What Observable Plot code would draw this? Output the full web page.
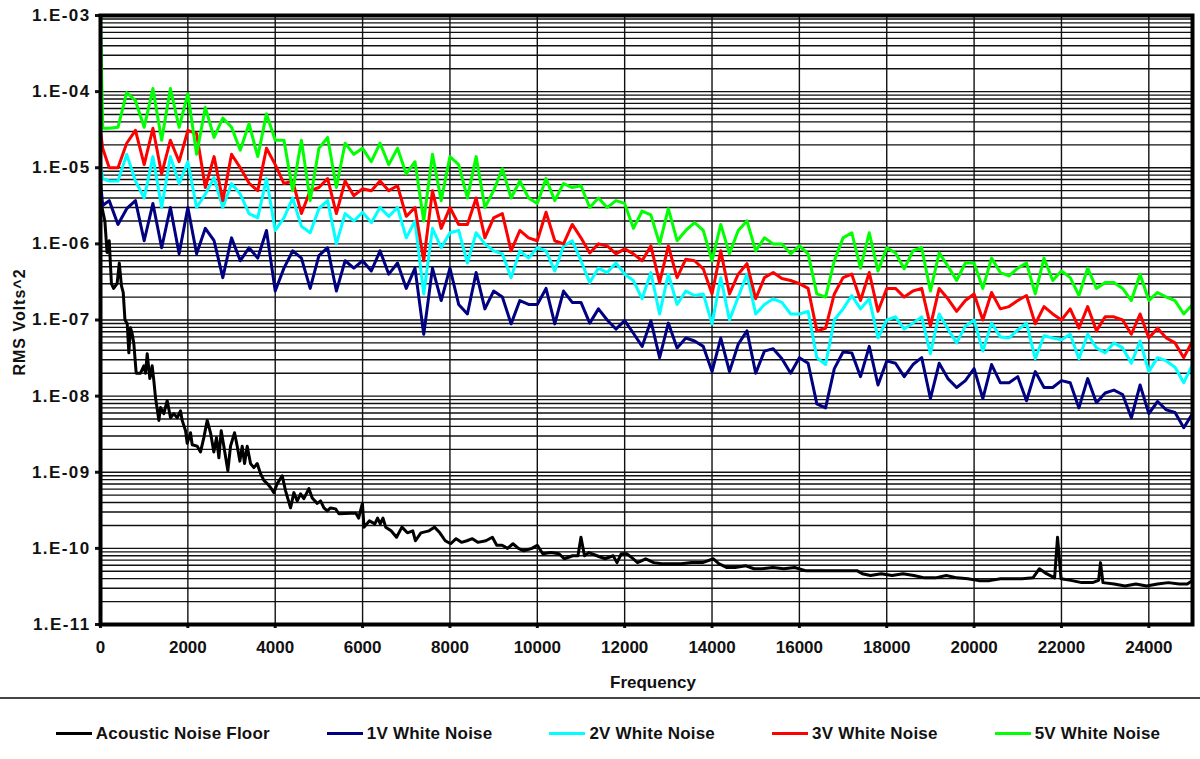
<!DOCTYPE html>
<html>
<head>
<meta charset="utf-8">
<script src="https://cdn.jsdelivr.net/npm/d3@7"></script>
<script src="https://cdn.jsdelivr.net/npm/@observablehq/plot@0.6"></script>
<style>
  body { margin: 0; background: #fff; font-family: 'Liberation Sans', Arial, sans-serif; }
  #legend { width: 1200px; height: 62px; box-sizing: border-box; border-top: 2px solid #444;
            display: flex; justify-content: center; gap: 57px; padding-top: 9px; padding-left: 16px;
            font-weight: bold; font-size: 17px; color: #111; line-height: 18px; letter-spacing: 0.2px; }
  .item { display: flex; align-items: center; }
  .sw { width: 36px; height: 3px; margin-right: 4px; }
</style>
</head>
<body>
<div id="chart"></div>
<div id="legend"></div>
<script>
// ---------- data ----------
const seriesNames = ["Acoustic Noise Floor", "1V White Noise", "2V White Noise", "3V White Noise", "5V White Noise"];
const seriesColors = ["#000000", "#000080", "#00FFFF", "#FF0000", "#00FF00"];
const xLabel = "Frequency";
const yLabel = "RMS Volts^2";
const xTicks = [0, 2000, 4000, 6000, 8000, 10000, 12000, 14000, 16000, 18000, 20000, 22000, 24000];
const xTickLabels = ["0", "2000", "4000", "6000", "8000", "10000", "12000", "14000", "16000", "18000", "20000", "22000", "24000"];
const yTicks = [1e-11, 1e-10, 1e-9, 1e-8, 1e-7, 1e-6, 1e-5, 1e-4, 1e-3];
const yTickLabels = ["1.E-11", "1.E-10", "1.E-09", "1.E-08", "1.E-07", "1.E-06", "1.E-05", "1.E-04", "1.E-03"];

// frequency bins shared by the four white-noise series
const freq = [0, 50,
  200, 400, 600, 800, 1000, 1200, 1400, 1600, 1800, 2000,
  2200, 2400, 2600, 2800, 3000, 3200, 3400, 3600, 3800, 4000,
  4200, 4400, 4600, 4800, 5000, 5200, 5400, 5600, 5800, 6000,
  6200, 6400, 6600, 6800, 7000, 7200, 7400, 7600, 7800, 8000,
  8200, 8400, 8600, 8800, 9000, 9200, 9400, 9600, 9800, 10000,
  10200, 10400, 10600, 10800, 11000, 11200, 11400, 11600, 11800, 12000,
  12200, 12400, 12600, 12800, 13000, 13200, 13400, 13600, 13800, 14000,
  14200, 14400, 14600, 14800, 15000, 15200, 15400, 15600, 15800, 16000,
  16200, 16400, 16600, 16800, 17000, 17200, 17400, 17600, 17800, 18000,
  18200, 18400, 18600, 18800, 19000, 19200, 19400, 19600, 19800, 20000,
  20200, 20400, 20600, 20800, 21000, 21200, 21400, 21600, 21800, 22000,
  22200, 22400, 22600, 22800, 23000, 23200, 23400, 23600, 23800, 24000,
  24200, 24400, 24600, 24800, 25000];

const noise5V = [1e-3, 3.3e-5,
  3.3e-5, 3.4e-5, 9.7e-5, 7.6e-5, 3.4e-5, 1.1e-4, 2.3e-5, 1.1e-4, 3.4e-5, 9.4e-5,
  1.5e-5, 6.2e-5, 2.5e-5, 4.5e-5, 3.4e-5, 1.7e-5, 3.8e-5, 1.4e-5, 5.1e-5, 2.3e-5,
  2.3e-5, 5.0e-6, 2.3e-5, 3.7e-6, 1.8e-5, 2.5e-5, 5.5e-6, 2.1e-5, 1.5e-5, 1.8e-5,
  1.2e-5, 2.1e-5, 1.1e-5, 1.8e-5, 8.3e-6, 1.2e-5, 2.0e-6, 1.5e-5, 3.7e-6, 1.4e-5,
  1.1e-5, 4.0e-6, 1.4e-5, 3.0e-6, 5.0e-6, 9.7e-6, 4.0e-6, 6.7e-6, 4.0e-6, 3.4e-6,
  7.2e-6, 3.7e-6, 6.2e-6, 5.5e-6, 5.8e-6, 3.0e-6, 4.0e-6, 3.0e-6, 3.7e-6, 3.4e-6,
  1.6e-6, 2.7e-6, 2.4e-6, 1.0e-6, 2.9e-6, 1.1e-6, 1.5e-6, 1.9e-6, 1.5e-6, 6.0e-7,
  1.8e-6, 7.4e-7, 1.5e-6, 2.0e-6, 8.1e-7, 1.2e-6, 1.0e-6, 1.0e-6, 7.4e-7, 9.4e-7,
  7.4e-7, 2.2e-7, 2.0e-7, 6.0e-7, 1.2e-6, 1.4e-6, 4.8e-7, 1.4e-6, 4.4e-7, 8.9e-7,
  7.6e-7, 4.7e-7, 8.1e-7, 8.9e-7, 2.4e-7, 7.6e-7, 5.1e-7, 3.3e-7, 5.6e-7, 5.6e-7,
  2.6e-7, 6.5e-7, 4.2e-7, 3.8e-7, 4.8e-7, 5.6e-7, 2.2e-7, 6.5e-7, 3.3e-7, 4.4e-7,
  3.6e-7, 2.1e-7, 4.8e-7, 2.6e-7, 3.1e-7, 3.1e-7, 2.6e-7, 1.8e-7, 4.0e-7, 1.8e-7,
  2.3e-7, 2.0e-7, 1.8e-7, 1.2e-7, 1.6e-7];

const noise3V = [3.1e-5, 1.8e-5,
  1.0e-5, 1.0e-5, 2.1e-5, 3.1e-5, 1.1e-5, 3.3e-5, 8.3e-6, 2.3e-5, 1.2e-5, 3.1e-5,
  2.8e-5, 5.5e-6, 1.4e-5, 3.7e-6, 1.5e-5, 1.0e-5, 6.3e-6, 5.0e-6, 1.8e-5, 1.1e-5,
  6.2e-6, 6.7e-6, 2.5e-6, 5.0e-6, 5.5e-6, 7.2e-6, 2.5e-6, 6.7e-6, 4.3e-6, 5.3e-6,
  5.0e-6, 6.7e-6, 5.0e-6, 5.8e-6, 2.3e-6, 3.0e-6, 6.0e-7, 5.0e-6, 1.6e-6, 3.0e-6,
  1.8e-6, 1.8e-6, 4.0e-6, 1.2e-6, 2.2e-6, 2.5e-6, 8.1e-7, 1.5e-6, 1.2e-6, 1.1e-6,
  2.6e-6, 1.1e-6, 1.0e-6, 1.8e-6, 1.2e-6, 7.6e-7, 1.0e-6, 9.4e-7, 7.4e-7, 8.6e-7,
  7.4e-7, 6.0e-7, 9.4e-7, 3.1e-7, 9.4e-7, 3.6e-7, 6.3e-7, 6.0e-7, 4.7e-7, 2.2e-7,
  8.1e-7, 2.2e-7, 4.0e-7, 5.5e-7, 1.9e-7, 3.6e-7, 4.2e-7, 3.5e-7, 3.3e-7, 3.0e-7,
  2.6e-7, 7.2e-8, 7.8e-8, 2.2e-7, 3.6e-7, 4.0e-7, 1.8e-7, 4.2e-7, 1.3e-7, 2.6e-7,
  2.6e-7, 2.0e-7, 2.4e-7, 2.6e-7, 8.3e-8, 2.6e-7, 1.9e-7, 1.3e-7, 1.8e-7, 2.2e-7,
  1.0e-7, 2.3e-7, 1.4e-7, 1.5e-7, 1.8e-7, 2.1e-7, 8.9e-8, 1.5e-7, 1.2e-7, 1.0e-7,
  1.4e-7, 7.8e-8, 1.5e-7, 7.2e-8, 1.1e-7, 1.1e-7, 1.0e-7, 6.5e-8, 1.2e-7, 5.8e-8,
  7.8e-8, 5.8e-8, 5.0e-8, 3.2e-8, 5.3e-8];

const noise2V = [1.1e-5, 7.2e-6,
  6.7e-6, 6.7e-6, 1.5e-5, 6.7e-6, 4.0e-6, 1.4e-5, 3.0e-6, 1.4e-5, 6.2e-6, 1.2e-5,
  3.0e-6, 4.5e-6, 7.4e-6, 3.0e-6, 6.2e-6, 4.5e-6, 2.5e-6, 2.2e-6, 7.2e-6, 1.5e-6,
  2.2e-6, 4.0e-6, 1.7e-6, 1.4e-6, 2.9e-6, 3.7e-6, 1.0e-6, 2.5e-6, 2.0e-6, 2.6e-6,
  1.9e-6, 3.0e-6, 2.3e-6, 3.0e-6, 1.2e-6, 2.0e-6, 2.2e-7, 1.6e-6, 8.9e-7, 1.4e-6,
  1.5e-6, 5.6e-7, 1.4e-6, 1.0e-6, 8.1e-7, 7.4e-7, 3.6e-7, 8.1e-7, 6.5e-7, 8.9e-7,
  8.1e-7, 4.4e-7, 9.4e-7, 1.1e-6, 6.0e-7, 3.1e-7, 4.8e-7, 4.2e-7, 5.6e-7, 4.0e-7,
  3.3e-7, 1.9e-7, 4.2e-7, 1.2e-7, 4.0e-7, 1.6e-7, 2.4e-7, 2.1e-7, 2.2e-7, 8.9e-8,
  3.6e-7, 1.0e-7, 2.0e-7, 4.0e-7, 1.2e-7, 1.6e-7, 1.9e-7, 1.7e-7, 1.2e-7, 1.2e-7,
  1.3e-7, 3.2e-8, 2.6e-8, 1.0e-7, 1.4e-7, 2.1e-7, 1.4e-7, 1.9e-7, 5.8e-8, 1.0e-7,
  1.1e-7, 7.6e-8, 9.1e-8, 1.1e-7, 3.6e-8, 1.2e-7, 7.6e-8, 5.0e-8, 8.3e-8, 1.0e-7,
  3.9e-8, 9.1e-8, 6.0e-8, 5.8e-8, 7.4e-8, 9.1e-8, 3.1e-8, 6.2e-8, 5.8e-8, 5.5e-8,
  6.5e-8, 3.1e-8, 6.5e-8, 4.3e-8, 3.7e-8, 5.0e-8, 4.3e-8, 2.7e-8, 5.3e-8, 2.1e-8,
  3.2e-8, 2.9e-8, 2.4e-8, 1.5e-8, 2.6e-8];

const noise1V = [6.7e-6, 3.2e-6,
  3.7e-6, 1.8e-6, 2.9e-6, 3.7e-6, 1.1e-6, 3.4e-6, 8.9e-7, 3.0e-6, 7.4e-7, 3.0e-6,
  7.4e-7, 1.6e-6, 1.1e-6, 3.6e-7, 1.2e-6, 6.0e-7, 8.9e-7, 6.5e-7, 1.5e-6, 2.4e-7,
  4.8e-7, 8.1e-7, 6.5e-7, 2.6e-7, 7.0e-7, 8.9e-7, 2.4e-7, 6.0e-7, 4.8e-7, 6.0e-7,
  4.4e-7, 8.1e-7, 4.0e-7, 5.6e-7, 2.6e-7, 4.8e-7, 6.5e-8, 4.8e-7, 1.8e-7, 4.8e-7,
  1.6e-7, 1.2e-7, 4.2e-7, 1.4e-7, 2.4e-7, 2.0e-7, 8.9e-8, 1.8e-7, 1.6e-7, 1.6e-7,
  2.6e-7, 8.9e-8, 2.4e-7, 1.7e-7, 1.7e-7, 9.1e-8, 1.4e-7, 1.0e-7, 7.6e-8, 9.8e-8,
  6.7e-8, 4.5e-8, 9.8e-8, 3.2e-8, 9.1e-8, 4.3e-8, 5.8e-8, 5.3e-8, 4.5e-8, 2.1e-8,
  5.8e-8, 2.1e-8, 4.8e-8, 7.2e-8, 2.0e-8, 3.9e-8, 4.2e-8, 3.1e-8, 2.0e-8, 3.2e-8,
  2.7e-8, 7.9e-9, 7.0e-9, 2.3e-8, 3.8e-8, 3.7e-8, 1.8e-8, 4.5e-8, 1.4e-8, 2.9e-8,
  2.7e-8, 1.8e-8, 2.6e-8, 3.2e-8, 9.3e-9, 2.7e-8, 1.7e-8, 1.3e-8, 1.6e-8, 2.3e-8,
  9.3e-9, 2.6e-8, 1.5e-8, 1.5e-8, 1.8e-8, 8.7e-9, 2.1e-8, 1.3e-8, 1.3e-8, 1.6e-8,
  1.5e-8, 7.0e-9, 1.7e-8, 8.2e-9, 1.1e-8, 1.2e-8, 1.05e-8, 5.2e-9, 1.4e-8, 5.9e-9,
  8.5e-9, 6.6e-9, 6.1e-9, 3.85e-9, 5.9e-9];

const floorFreq = [0, 100, 150, 200, 250, 300, 380, 430, 480, 520, 560, 611, 649, 687, 725, 763, 817, 916, 992, 1031,
  1069, 1130, 1183, 1221, 1260, 1336, 1374, 1450, 1527, 1603, 1679, 1756, 1832, 1870, 1947, 1985, 2061, 2099, 2214, 2290,
  2366, 2443, 2519, 2595, 2656, 2710, 2763, 2824, 2916, 2977, 3069, 3130, 3191, 3244, 3298, 3359, 3435, 3511, 3588, 3664,
  3740, 3817, 3893, 3969, 4046, 4160, 4237, 4351, 4427, 4504, 4580, 4656, 4771, 4847, 4962, 5038, 5115, 5191, 5267, 5382,
  5458, 5723, 5847, 5909, 5996, 6033, 6157, 6281, 6343, 6405, 6467, 6529, 6653, 6777, 6901, 7025, 7149, 7211, 7335, 7521,
  7645, 7769, 7893, 8017, 8141, 8265, 8389, 8513, 8637, 8823, 8972, 9071, 9195, 9319, 9443, 9567, 9691, 9877, 10001, 10125,
  10311, 10497, 10621, 10807, 10931, 11000, 11080, 11179, 11365, 11551, 11737, 11824, 11923, 12047, 12171, 12295, 12481, 12667, 12853, 13039,
  13287, 13535, 13783, 14031, 14155, 14341, 14527, 14775, 14961, 15147, 15395, 15643, 15891, 16139, 16387, 16635, 16883, 17131, 17317, 17441,
  17627, 17875, 18123, 18371, 18619, 18867, 19115, 19363, 19611, 19859, 20107, 20355, 20603, 20851, 21099, 21347, 21496, 21657, 21843, 21910,
  21990, 22215, 22463, 22711, 22850, 22894, 22950, 23207, 23455, 23703, 23951, 24199, 24447, 24695, 24881, 25000];
const floorValue = [3.7e-6, 2.0e-6, 7.7e-7, 1.1e-6, 3.0e-7, 2.6e-7, 3.0e-7, 5.6e-7, 2.8e-7, 2.3e-7, 1.0e-7, 9.0e-8, 3.7e-8, 7.9e-8, 6.6e-8, 4.9e-8, 2.0e-8, 2.0e-8, 2.5e-8, 2.0e-8,
  3.6e-8, 1.7e-8, 2.5e-8, 1.6e-8, 9.5e-9, 4.8e-9, 7.1e-9, 5.9e-9, 8.7e-9, 5.2e-9, 5.9e-9, 5.2e-9, 6.4e-9, 4.8e-9, 3.5e-9, 2.4e-9, 3.3e-9, 2.3e-9, 2.2e-9, 1.85e-9,
  2.85e-9, 4.8e-9, 3.3e-9, 1.85e-9, 2.85e-9, 1.55e-9, 3.5e-9, 2.2e-9, 1.05e-9, 2.2e-9, 3.3e-9, 2.2e-9, 1.4e-9, 2.2e-9, 1.3e-9, 2.2e-9, 1.3e-9, 1.15e-9, 1.3e-9, 9.6e-10,
  7.8e-10, 7.1e-10, 6.3e-10, 5.4e-10, 7.1e-10, 9.0e-10, 5.7e-10, 3.4e-10, 5.4e-10, 4.2e-10, 5.2e-10, 4.5e-10, 6.1e-10, 4.6e-10, 3.9e-10, 4.2e-10, 3.4e-10, 3.1e-10, 3.4e-10, 3.3e-10,
  2.85e-10, 2.9e-10, 2.9e-10, 2.5e-10, 3.9e-10, 1.9e-10, 2.3e-10, 2.1e-10, 2.5e-10, 2.1e-10, 2.5e-10, 1.9e-10, 1.7e-10, 1.4e-10, 1.9e-10, 1.6e-10, 1.7e-10, 1.26e-10, 1.6e-10, 1.7e-10,
  1.9e-10, 1.6e-10, 1.26e-10, 1.15e-10, 1.34e-10, 1.2e-10, 1.26e-10, 1.34e-10, 1.2e-10, 1.26e-10, 1.4e-10, 1.1e-10, 1.1e-10, 1.0e-10, 1.15e-10, 1.0e-10, 9.3e-11, 1.0e-10, 1.1e-10, 8.5e-11,
  8.8e-11, 8.5e-11, 7.3e-11, 8.0e-11, 8.0e-11, 1.4e-10, 8.0e-11, 8.8e-11, 8.0e-11, 7.3e-11, 8.0e-11, 6.5e-11, 8.5e-11, 8.5e-11, 7.5e-11, 6.5e-11, 7.3e-11, 6.5e-11, 6.3e-11, 6.3e-11,
  6.3e-11, 6.5e-11, 6.5e-11, 7.3e-11, 6.3e-11, 5.6e-11, 5.6e-11, 5.9e-11, 5.4e-11, 5.4e-11, 5.6e-11, 5.4e-11, 5.6e-11, 5.1e-11, 5.1e-11, 5.1e-11, 5.1e-11, 5.1e-11, 5.1e-11, 4.65e-11,
  4.4e-11, 4.65e-11, 4.4e-11, 4.65e-11, 4.4e-11, 4.1e-11, 4.1e-11, 4.4e-11, 4.1e-11, 4.0e-11, 3.77e-11, 3.77e-11, 4.0e-11, 4.0e-11, 4.0e-11, 4.1e-11, 5.4e-11, 4.65e-11, 4.1e-11, 1.4e-10,
  4.0e-11, 3.8e-11, 3.55e-11, 3.55e-11, 3.8e-11, 6.5e-11, 3.55e-11, 3.4e-11, 3.2e-11, 3.4e-11, 3.2e-11, 3.4e-11, 3.55e-11, 3.4e-11, 3.4e-11, 3.8e-11];

// ---------- build ----------
const seriesX = [floorFreq, freq, freq, freq, freq];
const seriesY = [floorValue, noise1V, noise2V, noise3V, noise5V];
const minorGrid = [];
yTicks.slice(0, -1).forEach(t => { for (let k = 1; k <= 9; k++) minorGrid.push(t * k); });
minorGrid.push(yTicks[yTicks.length - 1]);

const lineMarks = seriesY.map((ys, s) =>
  Plot.line(ys.map((v, i) => ({f: seriesX[s][i], v})), {
    x: "f", y: "v", stroke: seriesColors[s], strokeWidth: 3, strokeLinejoin: "round"
  })
);

const plot = Plot.plot({
  width: 1200,
  height: 697,
  marginLeft: 100,
  marginRight: 8,
  marginTop: 15,
  marginBottom: 73,
  style: {fontFamily: "'Liberation Sans', Arial, sans-serif", fontSize: "17px", fontWeight: "bold", color: "#111", background: "#fff", overflow: "visible"},
  x: {domain: [0, 25000]},
  y: {type: "log", domain: [1e-11, 1e-3]},
  marks: [
    Plot.ruleY(minorGrid, {stroke: "#111", strokeWidth: 1.4}),
    Plot.ruleX(xTicks, {stroke: "#111", strokeWidth: 1.4}),
    Plot.axisY(yTicks, {tickFormat: d => yTickLabels[yTicks.indexOf(d)], tickSize: 5, tickPadding: 5, strokeWidth: 3, label: null}),
    Plot.axisX(xTicks, {tickFormat: d => xTickLabels[xTicks.indexOf(d)], tickSize: 4, tickPadding: 12, strokeWidth: 3, label: null}),
    ...lineMarks,
    Plot.frame({stroke: "#000", strokeWidth: 4})
  ]
});

const svg = d3.select(plot);
svg.selectAll("g[aria-label='y-axis tick label'] text").style("letter-spacing", "1.4px");
const xs = plot.scale("x");
svg.append("text")
  .attr("x", xs.apply(12500) + 7).attr("y", 688)
  .attr("text-anchor", "middle").attr("fill", "#111")
  .style("font-size", "17px").style("font-weight", "bold")
  .text(xLabel);
svg.append("text")
  .attr("transform", "translate(19,322) rotate(-90)")
  .attr("text-anchor", "middle").attr("dy", "0.35em").attr("fill", "#111")
  .style("font-size", "16px").style("font-weight", "bold").style("letter-spacing", "1px")
  .text(yLabel);

document.getElementById("chart").appendChild(plot);

const legend = d3.select("#legend");
seriesNames.forEach((name, i) => {
  const item = legend.append("div").attr("class", "item");
  item.append("div").attr("class", "sw").style("background", seriesColors[i]);
  item.append("span").text(name);
});
</script>
</body>
</html>
